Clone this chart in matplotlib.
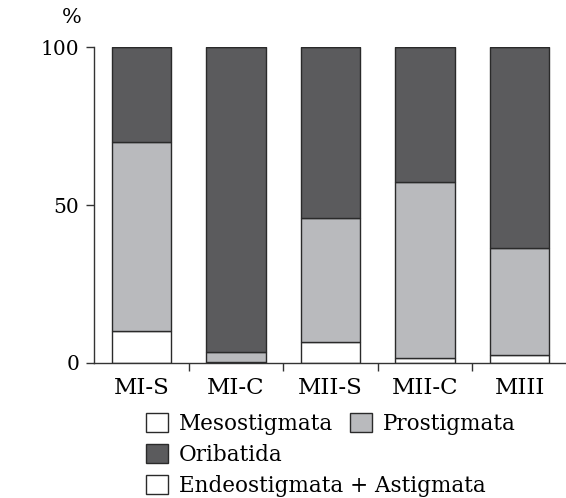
import matplotlib
matplotlib.use("Agg")
import matplotlib.pyplot as plt
from matplotlib.patches import Patch
import numpy as np

# Mite group composition (% of individuals) per site
sites = ["MI-S", "MI-C", "MII-S", "MII-C", "MIII"]
mesostigmata = [10.0, 0.4, 6.7, 1.5, 2.5]
prostigmata = [60.0, 3.1, 39.3, 55.8, 33.9]
oribatida = [30.0, 96.5, 54.0, 42.7, 63.6]
endeo_astigmata = [0.0, 0.0, 0.0, 0.0, 0.0]

groups = ["Mesostigmata", "Prostigmata", "Oribatida", "Endeostigmata + Astigmata"]
colors = ["#ffffff", "#b9babd", "#5b5b5d", "#ffffff"]
edge = "#2a2a2a"

plt.rcParams["font.family"] = ["DejaVu Serif"]
plt.rcParams["font.size"] = 14

fig = plt.figure(figsize=(5.66, 4.98), dpi=100)
ax = fig.add_axes([0.1666, 0.2711, 0.835, 0.6345])

x = np.arange(len(sites))
bottom = np.zeros(len(sites))
handles = []
for vals, col, name in zip([mesostigmata, prostigmata, oribatida, endeo_astigmata],
                           colors, groups):
    vals = np.array(vals)
    ax.bar(x, vals, width=0.63, bottom=bottom, color=col, edgecolor=edge,
           linewidth=1.0, label=name)
    bottom = bottom + vals
    handles.append(Patch(facecolor=col, edgecolor=edge, linewidth=1.0, label=name))

ax.set_xlim(-0.5, 4.5)
ax.set_ylim(0, 100)
ax.spines["top"].set_visible(False)
ax.spines["right"].set_visible(False)
ax.spines["left"].set_bounds(0, 100)
for s in ["left", "bottom"]:
    ax.spines[s].set_linewidth(1.0)
    ax.spines[s].set_color("#333333")

ax.set_yticks([0, 50, 100])
ax.tick_params(axis="y", direction="out", length=6, width=1.0, pad=5,
               labelsize=14.5, color="#333333")
ax.set_xticks(x)
ax.set_xticklabels(sites)
ax.set_xticks(x[:-1] + 0.5, minor=True)
ax.tick_params(axis="x", which="major", length=0, pad=10, labelsize=16.5)
ax.tick_params(axis="x", which="minor", direction="out", length=6, width=1.0,
               color="#333333")

fig.text(72 / 566, 1 - 17.5 / 498, "%", ha="center", va="center", fontsize=15)

common = dict(frameon=False, fontsize=15.5, handlelength=1.02, handleheight=0.93,
              handletextpad=0.51, borderpad=0, borderaxespad=0, labelspacing=0.42,
              loc="upper left")
leg1 = fig.legend(handles=handles[:2], ncol=2, columnspacing=0.78,
                  bbox_to_anchor=(146 / 566, 1 - 413 / 498), **common)
leg2 = fig.legend(handles=handles[2:], ncol=1,
                  bbox_to_anchor=(146 / 566, 1 - 444 / 498), **common)

fig.savefig("out.png", dpi=100)
